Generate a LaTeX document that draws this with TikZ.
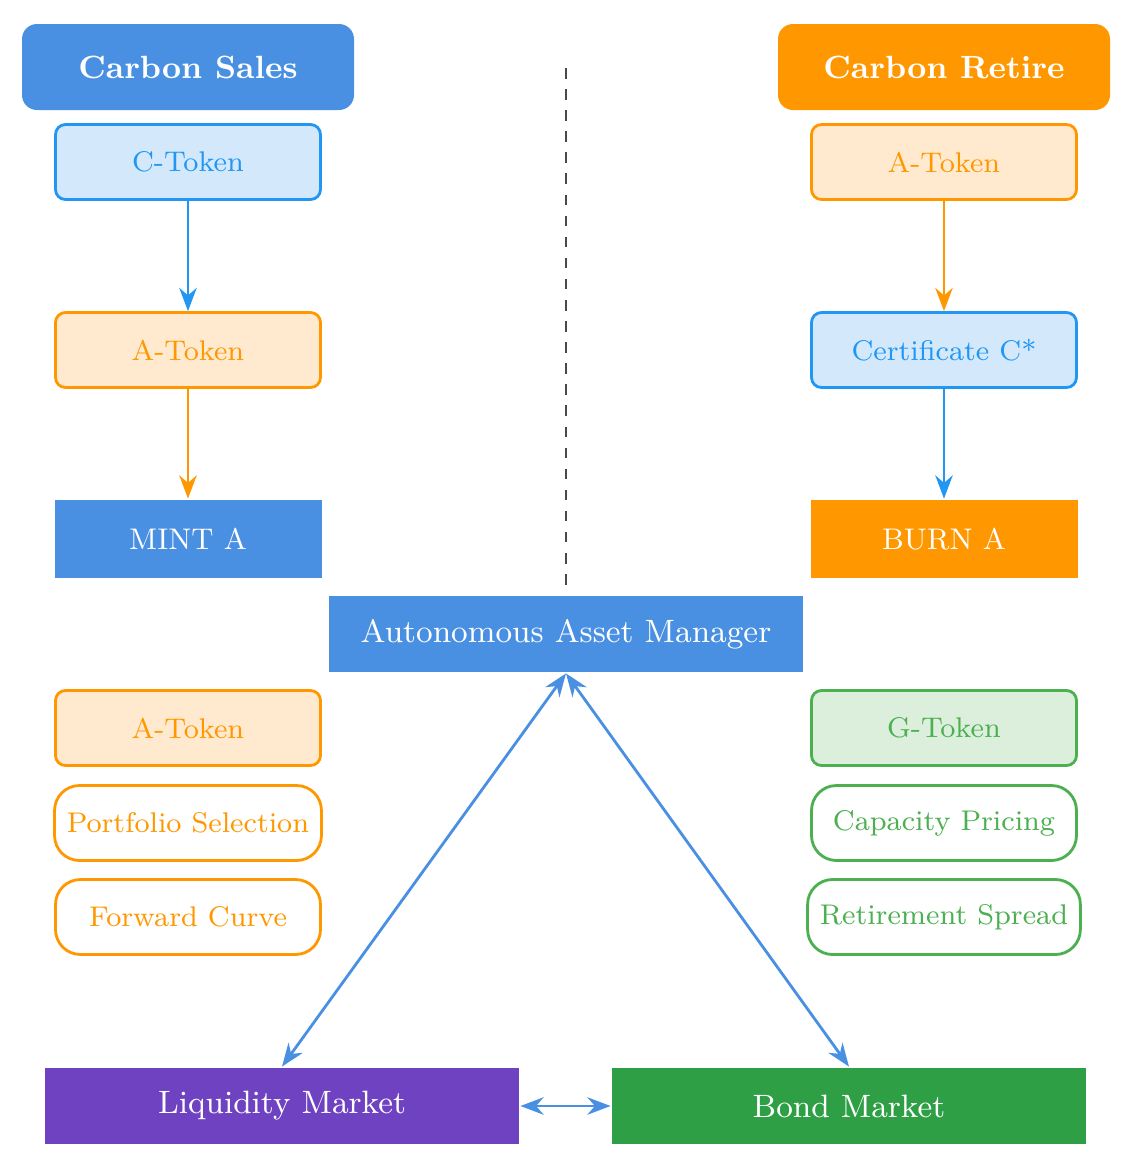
\documentclass[tikz,border=0pt]{standalone}
\usetikzlibrary{arrows.meta}
\definecolor{mainblue}{HTML}{4A90E2}
\definecolor{mainorange}{HTML}{FF9800}
\definecolor{cblue}{HTML}{2196F3}
\definecolor{cbluefill}{HTML}{D3E9FB}
\definecolor{aorangefill}{HTML}{FFEACF}
\definecolor{ggreen}{HTML}{4CAF50}
\definecolor{ggreenfill}{HTML}{DCEFDD}
\definecolor{liqpurple}{HTML}{6F42C1}
\definecolor{bondgreen}{HTML}{2E9F44}
\definecolor{dashgray}{HTML}{454A50}
\begin{document}
\begin{tikzpicture}[thick, >={Stealth},
head node/.style={rounded corners=0.15cm,minimum width=3.32cm,minimum height=0.86cm,text=white,font=\fontsize{9.15}{11}\selectfont\bfseries},
token node/.style={draw,rounded corners=0.1cm,minimum width=2.65cm,minimum height=0.75cm,inner sep=3.5pt,font=\fontsize{8.1}{10}\selectfont},
pill node/.style={token node,rounded corners=0.25cm,fill=white},
block node/.style={minimum width=2.67cm,minimum height=0.78cm,text=white,font=\fontsize{8.5}{10}\selectfont},
market node/.style={minimum width=4.74cm,minimum height=0.76cm,text=white,font=\fontsize{9.2}{11}\selectfont}]
\useasboundingbox (0,0) rectangle (11.31,-11.65);
% left side: sales
\node[head node, fill=mainblue] (sales) at (1.88,-0.67) {Carbon Sales};
\node[token node, draw=cblue, fill=cbluefill, text=cblue] (ctok) at (1.88,-1.62) {C-Token};
\node[token node, draw=mainorange, fill=aorangefill, text=mainorange] (atok) at (1.88,-3.50) {A-Token};
\node[block node, fill=mainblue] (mint) at (1.88,-5.39) {MINT A};
% right side: retire
\node[head node, fill=mainorange] (retire) at (9.44,-0.67) {Carbon Retire};
\node[token node, draw=mainorange, fill=aorangefill, text=mainorange] (ratok) at (9.44,-1.62) {A-Token};
\node[token node, draw=cblue, fill=cbluefill, text=cblue] (cert) at (9.44,-3.50) {Certificate C*};
\node[block node, fill=mainorange] (burn) at (9.44,-5.39) {BURN A};
% manager
\node[market node, fill=mainblue] (aam) at (5.66,-6.34) {Autonomous Asset Manager};
\node[token node, draw=mainorange, fill=aorangefill, text=mainorange] (latok) at (1.88,-7.28) {A-Token};
\node[pill node, draw=mainorange, text=mainorange] (port) at (1.88,-8.23) {Portfolio Selection};
\node[pill node, draw=mainorange, text=mainorange] (fwd) at (1.88,-9.17) {Forward Curve};
\node[token node, draw=ggreen, fill=ggreenfill, text=ggreen] (gtok) at (9.44,-7.28) {G-Token};
\node[pill node, draw=ggreen, text=ggreen] (cap) at (9.44,-8.23) {Capacity Pricing};
\node[pill node, draw=ggreen, text=ggreen] (spread) at (9.44,-9.17) {Retirement Spread};
% markets
\node[market node, fill=liqpurple] (liq) at (2.82,-11.06) {Liquidity Market};
\node[market node, fill=bondgreen] (bond) at (8.49,-11.06) {Bond Market};
\coordinate (dtop) at (5.66,-0.68);
\coordinate (dbot) at (5.66,-5.85);
\draw[dashed, dashgray] (dtop) -- (dbot);
\draw[->, cblue] (ctok) -- (atok);
\draw[->, mainorange] (atok) -- (mint);
\draw[->, mainorange] (ratok) -- (cert);
\draw[->, cblue] (cert) -- (burn);
\draw[<->, mainblue] (aam.south) -- (liq.north);
\draw[<->, mainblue] (aam.south) -- (bond.north);
\draw[<->, mainblue] (liq) -- (bond);
\end{tikzpicture}
\end{document}
